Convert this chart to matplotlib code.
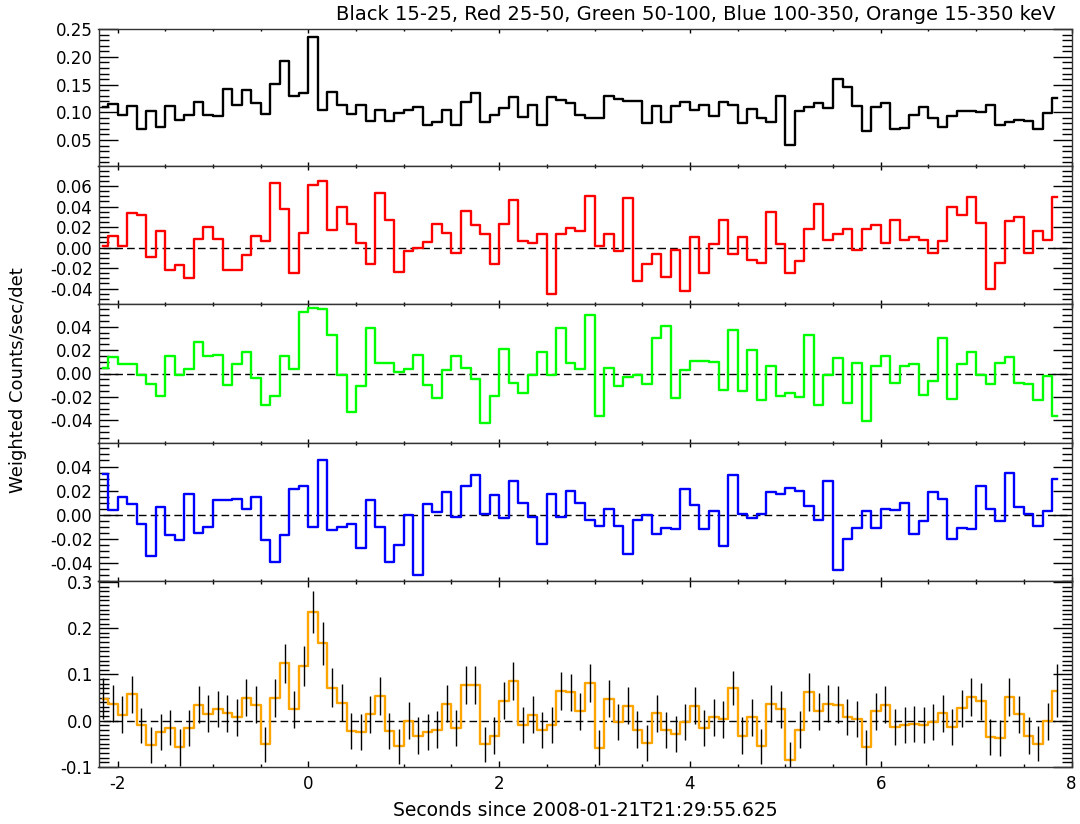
import numpy as np
import matplotlib
matplotlib.use('Agg')
import matplotlib.pyplot as plt
from matplotlib.ticker import MultipleLocator, FormatStrFormatter

# Bin layout: 0.1 s bins, first bin centre at -2.15 s
bin_start = -2.15
bin_width = 0.1

# Weighted counts/sec/det per band
black_rate = [
    0.110, 0.115, 0.096, 0.111, 0.070, 0.102, 0.074, 0.112, 0.087, 0.096,
    0.119, 0.096, 0.093, 0.143, 0.113, 0.140, 0.116, 0.097, 0.151, 0.193,
    0.130, 0.134, 0.236, 0.105, 0.137, 0.114, 0.097, 0.114, 0.084, 0.104,
    0.084, 0.099, 0.104, 0.110, 0.077, 0.083, 0.104, 0.077, 0.119, 0.135,
    0.082, 0.095, 0.107, 0.128, 0.092, 0.114, 0.077, 0.128, 0.122, 0.117,
    0.096, 0.090, 0.090, 0.130, 0.124, 0.121, 0.121, 0.081, 0.112, 0.082,
    0.112, 0.119, 0.105, 0.113, 0.094, 0.119, 0.114, 0.080, 0.106, 0.090,
    0.083, 0.130, 0.041, 0.102, 0.110, 0.117, 0.108, 0.161, 0.145, 0.112,
    0.066, 0.110, 0.117, 0.069, 0.071, 0.096, 0.110, 0.090, 0.074, 0.094,
    0.102, 0.102, 0.101, 0.114, 0.077, 0.082, 0.087, 0.084, 0.069, 0.098,
    0.125]

red_rate = [
    0.002, 0.011, 0.002, 0.034, 0.032, -0.009, 0.016, -0.022, -0.017, -0.030,
    0.008, 0.020, 0.008, -0.022, -0.022, -0.007, 0.011, 0.006, 0.063, 0.038,
    -0.025, 0.014, 0.061, 0.065, 0.017, 0.040, 0.023, 0.004, -0.016, 0.053,
    0.027, -0.024, -0.003, -0.000, 0.005, 0.023, 0.014, -0.005, 0.036, 0.022,
    0.013, -0.016, 0.023, 0.046, 0.006, 0.004, 0.013, -0.045, 0.013, 0.019,
    0.016, 0.050, 0.002, 0.013, -0.003, 0.048, -0.033, -0.016, -0.006, -0.029,
    -0.002, -0.042, 0.010, -0.025, 0.003, 0.027, -0.006, 0.010, -0.012, -0.015,
    0.035, 0.003, -0.025, -0.013, 0.018, 0.042, 0.007, 0.013, 0.018, -0.002,
    0.018, 0.022, 0.004, 0.027, 0.007, 0.010, 0.007, -0.005, 0.006, 0.040,
    0.032, 0.049, 0.024, -0.040, -0.015, 0.026, 0.030, -0.005, 0.016, 0.007,
    0.049]

green_rate = [
    0.005, 0.014, 0.008, 0.008, -0.001, -0.009, -0.019, 0.015, -0.001, 0.004,
    0.027, 0.015, 0.016, -0.010, 0.008, 0.018, -0.004, -0.027, -0.019, 0.015,
    0.004, 0.053, 0.056, 0.055, 0.033, -0.001, -0.033, -0.011, 0.039, 0.009,
    0.009, 0.001, 0.004, 0.016, -0.010, -0.021, 0.003, 0.015, 0.005, -0.005,
    -0.042, -0.019, 0.021, -0.008, -0.017, -0.001, 0.018, -0.001, 0.039, 0.009,
    0.004, 0.050, -0.036, 0.005, -0.011, -0.003, -0.001, -0.009, 0.030, 0.041,
    -0.021, 0.003, 0.011, 0.011, 0.010, -0.014, 0.037, -0.015, 0.020, -0.023,
    0.006, -0.019, -0.017, -0.020, 0.033, -0.027, -0.001, 0.013, -0.025, 0.009,
    -0.041, 0.006, 0.015, -0.008, 0.006, 0.008, -0.018, -0.006, 0.030, -0.022,
    0.008, 0.018, -0.001, -0.009, 0.009, 0.014, -0.008, -0.009, -0.023, -0.002,
    -0.036]

blue_rate = [
    0.034, 0.004, 0.015, 0.009, -0.008, -0.034, 0.006, -0.017, -0.021, 0.017,
    -0.015, -0.010, 0.012, 0.012, 0.013, 0.005, 0.015, -0.021, -0.039, -0.017,
    0.021, 0.024, -0.010, 0.045, -0.013, -0.010, -0.008, -0.028, 0.012, -0.010,
    -0.039, -0.025, 0.000, -0.050, 0.009, 0.002, 0.019, -0.002, 0.024, 0.033,
    0.001, 0.016, -0.003, 0.028, 0.010, -0.002, -0.024, 0.017, -0.002, 0.020,
    0.010, -0.004, -0.009, 0.005, -0.009, -0.033, -0.004, 0.000, -0.016, -0.011,
    -0.012, 0.021, 0.008, -0.012, 0.003, -0.026, 0.033, 0.001, -0.003, 0.001,
    0.019, 0.017, 0.022, 0.020, 0.007, -0.004, 0.028, -0.046, -0.020, -0.011,
    0.003, -0.011, 0.005, 0.004, 0.010, -0.016, -0.005, 0.019, 0.013, -0.020,
    -0.011, -0.012, 0.024, 0.005, -0.005, 0.035, 0.006, 0.001, -0.009, 0.003,
    0.030]

orange_rate = [
    0.048, 0.037, 0.013, 0.057, -0.010, -0.053, -0.025, -0.015, -0.057, -0.016,
    0.035, 0.015, 0.025, 0.016, 0.007, 0.050, 0.035, -0.051, 0.049, 0.124,
    0.025, 0.118, 0.235, 0.167, 0.071, 0.039, -0.022, -0.025, 0.014, 0.053,
    -0.022, -0.055, 0.000, -0.032, -0.025, -0.019, 0.037, -0.016, 0.078, 0.078,
    -0.051, -0.032, 0.043, 0.086, -0.010, 0.013, -0.020, -0.010, 0.065, 0.062,
    0.021, 0.081, -0.058, 0.048, -0.003, 0.032, -0.019, -0.048, 0.016, -0.021,
    -0.028, -0.002, 0.032, -0.016, 0.007, 0.003, 0.071, -0.032, 0.007, -0.055,
    0.037, 0.025, -0.084, -0.019, 0.062, 0.021, 0.037, 0.035, 0.009, 0.003,
    -0.057, 0.021, 0.035, -0.014, -0.009, -0.007, -0.009, -0.002, 0.016, -0.014,
    0.027, 0.052, 0.042, -0.036, -0.038, 0.052, 0.014, -0.032, -0.050, -0.001,
    0.065]

orange_err = [
    0.044, 0.040, 0.040, 0.040, 0.038, 0.039, 0.039, 0.038, 0.040, 0.039,
    0.039, 0.040, 0.039, 0.040, 0.039, 0.040, 0.040, 0.038, 0.041, 0.042,
    0.040, 0.043, 0.045, 0.046, 0.042, 0.040, 0.039, 0.039, 0.040, 0.041,
    0.039, 0.038, 0.040, 0.039, 0.039, 0.039, 0.040, 0.039, 0.041, 0.041,
    0.038, 0.039, 0.040, 0.041, 0.039, 0.040, 0.039, 0.039, 0.041, 0.040,
    0.040, 0.041, 0.038, 0.040, 0.039, 0.040, 0.039, 0.038, 0.040, 0.039,
    0.039, 0.039, 0.040, 0.039, 0.040, 0.040, 0.037, 0.039, 0.040, 0.038,
    0.040, 0.040, 0.038, 0.039, 0.041, 0.040, 0.040, 0.040, 0.039, 0.039,
    0.038, 0.040, 0.040, 0.039, 0.039, 0.039, 0.039, 0.039, 0.040, 0.039,
    0.040, 0.041, 0.040, 0.039, 0.039, 0.041, 0.040, 0.039, 0.038, 0.040,
    0.058]

band_title = 'Black 15-25, Red 25-50, Green 50-100, Blue 100-350, Orange 15-350 keV'
x_label = 'Seconds since 2008-01-21T21:29:55.625'
y_label = 'Weighted Counts/sec/det'

W, H = 1080, 824
LEFT_PX, RIGHT_PX = 98.5, 1071.5
# (top, bottom) of each panel in pixels
PANELS_PX = [(29, 166), (166, 304), (304, 443), (443, 581), (581, 767)]


def make_axes(fig):
    axes = []
    for top, bot in PANELS_PX:
        ax = fig.add_axes([LEFT_PX / W, 1 - bot / H,
                           (RIGHT_PX - LEFT_PX) / W, (bot - top) / H])
        axes.append(ax)
    return axes


def style_axis(ax, ylim, major, minor, fmt, show_x=False):
    ax.set_xlim(-2.2, 8.0)
    ax.set_ylim(*ylim)
    ax.xaxis.set_major_locator(MultipleLocator(2))
    ax.xaxis.set_minor_locator(MultipleLocator(0.5))
    ax.yaxis.set_major_locator(MultipleLocator(major))
    ax.yaxis.set_minor_locator(MultipleLocator(minor))
    ax.yaxis.set_major_formatter(FormatStrFormatter(fmt))
    ax.tick_params(axis='y', which='major', direction='in', length=14, width=1,
                   left=True, right=True, labelsize=12, pad=4)
    ax.tick_params(axis='y', which='minor', direction='in', length=7, width=1,
                   left=True, right=True)
    xlen = 4.0 if show_x else 3.0
    ax.tick_params(axis='x', which='major', direction='in', length=xlen, width=1,
                   top=True, bottom=True, labelsize=12, labelbottom=show_x, pad=6)
    ax.tick_params(axis='x', which='minor', direction='in', length=xlen * 0.6, width=1,
                   top=True, bottom=True)
    for s in ax.spines.values():
        s.set_linewidth(1.0)
        s.set_color('#333333')


def main():
    plt.rcParams['axes.formatter.use_mathtext'] = False
    plt.rcParams['axes.unicode_minus'] = False

    fig = plt.figure(figsize=(W / 100, H / 100), dpi=100)
    axes = make_axes(fig)

    times = bin_start + bin_width * np.arange(len(black_rate))
    zero_x = [times[0], times[-1] + bin_width]

    series = [
        (black_rate, 'black', (0.003, 0.2505), 0.05, 0.01, '%.2f', False),
        (red_rate, '#ff0000', (-0.055, 0.0795), 0.02, 0.005, '%.2f', True),
        (green_rate, '#00ff00', (-0.0595, 0.0595), 0.02, 0.005, '%.2f', True),
        (blue_rate, '#0000ff', (-0.055, 0.0595), 0.02, 0.005, '%.2f', True),
        (orange_rate, '#ffa500', (-0.100, 0.302), 0.1, 0.01, '%.1f', True),
    ]

    for i, (ax, (vals, col, ylim, major, minor, fmt, zero)) in enumerate(zip(axes, series)):
        if zero:
            ax.plot(zero_x, [0, 0], color='black', lw=1.0, dashes=(5.5, 3))
        ax.step(times, vals, where='mid', color=col, lw=1.7)
        if i == 4:
            v = np.array(vals)
            e = np.array(orange_err)
            ax.vlines(times, v - e, v + e, color='black', lw=1.0)
        style_axis(ax, ylim, major, minor, fmt, show_x=(i == 4))

    fig.text(1055 / W, 1 - 14 / H, band_title, ha='right', va='center', fontsize=14)
    fig.text(585 / W, 1 - 811 / H, x_label, ha='center', va='center', fontsize=13.5)
    fig.text(18 / W, 1 - 380 / H, y_label, rotation=90, ha='center', va='center',
             fontsize=13)

    fig.savefig('out.png', dpi=100)
    plt.close(fig)


if __name__ == "__main__":
    main()
